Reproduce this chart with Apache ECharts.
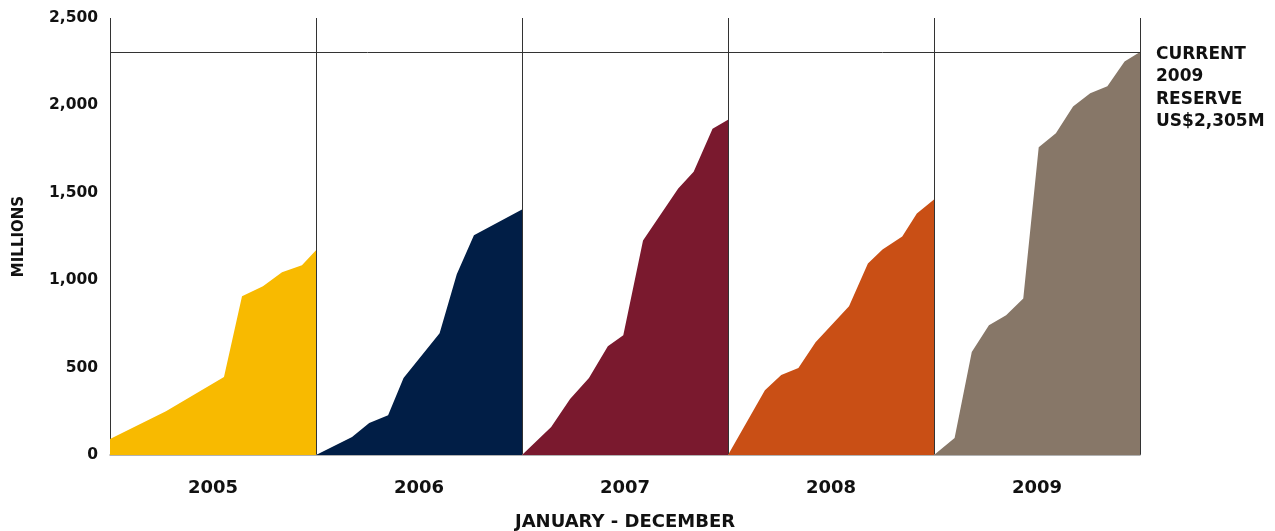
<!DOCTYPE html>
<html>
<head>
<meta charset="utf-8">
<script src="https://cdn.jsdelivr.net/npm/echarts@6/dist/echarts.min.js"></script>
<style>
html,body{margin:0;padding:0;background:#fff;}
#chart{width:1275px;height:531px;}
</style>
</head>
<body>
<div id="chart"></div>
<script>
// Data (x = months since January 2005, y = US$ millions)
const years = ['2005', '2006', '2007', '2008', '2009'];
const yTicks = [0, 500, 1000, 1500, 2000, 2500];
const reserve2009 = 2305;

const pos2005 = [0, 3.26, 6.64, 7.69, 8.91, 10.02, 11.18, 12];
const val2005 = [91, 251, 446, 908, 966, 1046, 1086, 1171];

const pos2006 = [12, 14.1, 15.1, 16.2, 17.1, 19.2, 20.2, 21.2, 24];
const val2006 = [0, 103, 183, 228, 440, 697, 1034, 1257, 1405];

const pos2007 = [24, 25.7, 26.8, 27.9, 29.0, 29.9, 31.05, 33.1, 34.0, 35.1, 36];
const val2007 = [0, 160, 320, 440, 622, 685, 1227, 1524, 1621, 1867, 1918];

const pos2008 = [36, 38.15, 39.1, 40.1, 41.1, 43.05, 44.15, 45.0, 46.15, 47.0, 48];
const val2008 = [0, 371, 457, 497, 645, 851, 1096, 1176, 1250, 1381, 1461];

const pos2009 = [48, 49.2, 50.2, 51.2, 52.2, 53.2, 54.1, 55.1, 56.1, 57.1, 58.1, 59.1, 60];
const val2009 = [0, 97, 589, 742, 800, 896, 1760, 1840, 1994, 2069, 2109, 2251, 2305];

const colors = ['#F8BA00', '#011E46', '#7A192E', '#C94F15', '#877768'];
const FONT = '"DejaVu Sans", sans-serif';

const allPos = [pos2005, pos2006, pos2007, pos2008, pos2009];
const allVal = [val2005, val2006, val2007, val2008, val2009];

const series = years.map((y, i) => ({
  name: y,
  type: 'line',
  xAxisIndex: 0,
  yAxisIndex: 0,
  data: allPos[i].map((p, j) => [p, allVal[i][j]]),
  symbol: 'none',
  lineStyle: { width: 0 },
  areaStyle: { color: colors[i], opacity: 1 },
  itemStyle: { color: colors[i] },
  z: 2
}));

series[4].markLine = {
  silent: true,
  symbol: 'none',
  label: { show: false },
  lineStyle: { color: '#333', width: 1, type: 'solid' },
  data: [{ yAxis: reserve2009 }],
  z: 5
};

const chart = echarts.init(document.getElementById('chart'), null, { renderer: 'canvas' });
chart.setOption({
  animation: false,
  backgroundColor: '#fff',
  grid: { left: 110, right: 135, top: 18, bottom: 76, containLabel: false, outerBoundsMode: 'none' },
  xAxis: [
    {
      type: 'value', min: 0, max: 60, show: false
    },
    {
      type: 'category',
      data: years,
      boundaryGap: true,
      position: 'bottom',
      axisLine: { show: true, lineStyle: { color: '#999', width: 1.5 } },
      axisTick: { show: false },
      splitLine: { show: true, lineStyle: { color: '#333', width: 1 } },
      axisLabel: { color: '#111', fontFamily: FONT, fontWeight: 'bold', fontSize: 18, margin: 24 },
      name: 'JANUARY - DECEMBER',
      nameLocation: 'middle',
      nameGap: 58,
      nameTextStyle: { color: '#111', fontFamily: FONT, fontWeight: 'bold', fontSize: 18 }
    }
  ],
  yAxis: {
    type: 'value',
    min: yTicks[0],
    max: yTicks[yTicks.length - 1],
    interval: 500,
    axisLine: { show: false },
    axisTick: { show: false },
    splitLine: { show: false },
    axisLabel: {
      color: '#111', fontFamily: FONT, fontWeight: 'bold', fontSize: 15.5, margin: 12,
      formatter: v => v.toLocaleString('en-US')
    },
    name: 'MILLIONS',
    nameLocation: 'middle',
    nameGap: 83,
    nameRotate: 90,
    nameTextStyle: { color: '#111', fontFamily: FONT, fontWeight: 'bold', fontSize: 15 }
  },
  graphic: [{
    type: 'text',
    left: 1156,
    top: 43,
    style: {
      text: 'CURRENT\n2009\nRESERVE\nUS$2,305M',
      fill: '#111',
      font: 'bold 17px ' + FONT,
      lineHeight: 22.5
    }
  }],
  series: series
});
</script>
</body>
</html>
